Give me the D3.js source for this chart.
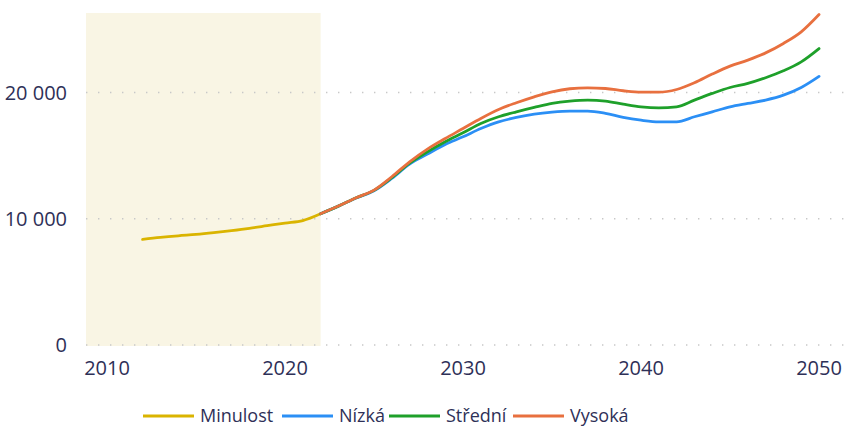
<!DOCTYPE html>
<html>
<head>
<meta charset="utf-8">
<script src="https://cdn.jsdelivr.net/npm/d3@7"></script>
<style>
	body { margin: 0; background: #fff; }
	text { font-family: "Open Sans", sans-serif; fill: #2e3057; }
</style>
</head>
<body>
<svg id="chart" width="854" height="428"></svg>
<script>
// data
const pastYears = [2012, 2013, 2014, 2015, 2016, 2017, 2018, 2019, 2020, 2021, 2022];
const pastValues = [8360, 8520, 8650, 8760, 8900, 9060, 9240, 9450, 9660, 9860, 10400];

const projYears = [2022, 2023, 2024, 2025, 2026, 2027, 2028, 2029, 2030, 2031, 2032,
	2033, 2034, 2035, 2036, 2037, 2038, 2039, 2040, 2041, 2042,
	2043, 2044, 2045, 2046, 2047, 2048, 2049, 2050];
const lowValues = [10400, 11000, 11650, 12220, 13200, 14330, 15120, 15890, 16490, 17150, 17680,
	18030, 18290, 18450, 18530, 18530, 18350, 18030, 17810, 17680, 17680,
	18080, 18470, 18870, 19140, 19400, 19790, 20400, 21280];
const midValues = [10400, 11000, 11660, 12250, 13250, 14400, 15300, 16100, 16810, 17550, 18080,
	18470, 18820, 19140, 19320, 19400, 19320, 19080, 18870, 18790, 18870,
	19400, 19930, 20400, 20720, 21170, 21720, 22430, 23480];
const highValues = [10400, 11010, 11670, 12270, 13330, 14510, 15520, 16360, 17150, 17950, 18660,
	19190, 19660, 20060, 20300, 20370, 20320, 20140, 20030, 20030, 20240,
	20770, 21460, 22090, 22570, 23140, 23890, 24810, 26180];

const seriesNames = ['Minulost', 'Nízká', 'Střední', 'Vysoká'];
const seriesColors = ['#dab400', '#2b8ff5', '#1ea02a', '#e8703f'];
const yTicks = [0, 10000, 20000];
const xTicks = [2010, 2020, 2030, 2040, 2050];
const pastEnd = 2022; // shaded "past" period

const svg = d3.select('#chart');

const x = d3.scaleLinear().domain([2008.82, 2051.74]).range([86, 850]);
const y = d3.scaleLinear().domain([0, 26300]).range([345, 13]);

// shaded past band
svg.append('rect')
	.attr('x', x.range()[0]).attr('y', y.range()[1])
	.attr('width', x(pastEnd) - x.range()[0])
	.attr('height', y(0) - y.range()[1] + 1)
	.attr('fill', '#f9f5e4');

// dotted gridlines
svg.append('g').selectAll('line').data(yTicks).join('line')
	.attr('x1', 86).attr('x2', 848)
	.attr('y1', d => y(d)).attr('y2', d => y(d))
	.attr('stroke', '#c8c8c8').attr('stroke-width', 1.4)
	.attr('stroke-dasharray', '1.4,10.6');

// y labels, space as thousands separator
svg.append('g').selectAll('text').data(yTicks).join('text')
	.attr('x', 67).attr('y', d => y(d)).attr('dy', '0.35em')
	.attr('text-anchor', 'end').attr('font-size', 20)
	.text(d => d3.format(',')(d).replace(/,/g, ' '));

// x labels
svg.append('g').selectAll('text').data(xTicks).join('text')
	.attr('x', d => x(d)).attr('y', 368).attr('dy', '0.35em')
	.attr('text-anchor', 'middle').attr('font-size', 20)
	.text(d => d);

// lines
const line = d3.line().x(d => x(d[0])).y(d => y(d[1])).curve(d3.curveMonotoneX);
const seriesData = [
	d3.zip(pastYears, pastValues),
	d3.zip(projYears, lowValues),
	d3.zip(projYears, midValues),
	d3.zip(projYears, highValues)
];
svg.append('g').selectAll('path').data(seriesData).join('path')
	.attr('d', line)
	.attr('fill', 'none')
	.attr('stroke', (d, i) => seriesColors[i])
	.attr('stroke-width', 2.8)
	.attr('stroke-linejoin', 'round')
	.attr('stroke-linecap', 'round');

// legend
const legendX = [143, 282, 389, 513];
const legend = svg.append('g').selectAll('g').data(seriesNames).join('g')
	.attr('transform', (d, i) => `translate(${legendX[i]},416)`);
legend.append('line')
	.attr('x1', 0).attr('x2', 51)
	.attr('stroke', (d, i) => seriesColors[i]).attr('stroke-width', 3);
legend.append('text')
	.attr('x', 57).attr('dy', '0.35em').attr('font-size', 18)
	.text(d => d);
</script>
</body>
</html>
